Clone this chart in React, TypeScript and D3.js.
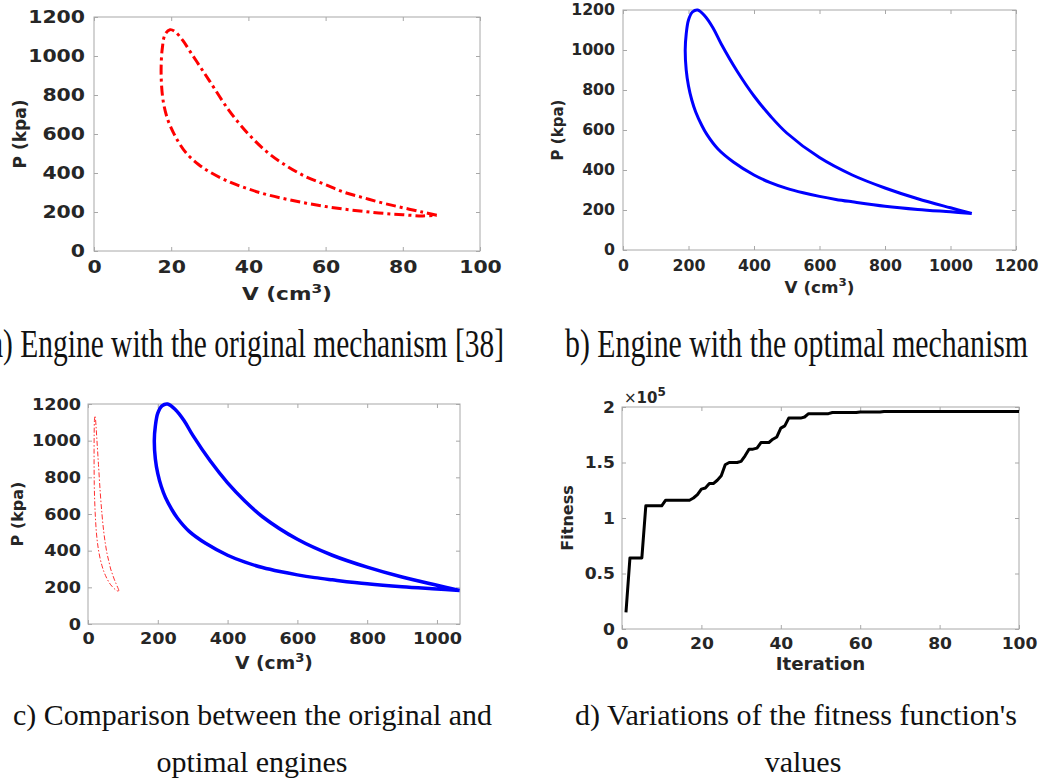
import React, { useEffect, useRef } from 'react';
import * as d3 from 'd3';

// original mechanism P-V loop (cm^3, kPa), starting at the right tip
const origV = [88.8, 85, 80, 75, 70, 65, 60, 55, 50, 45, 40, 35, 30, 27.5, 25, 23, 21, 19.7, 18.4, 17.7, 17.4, 17.5, 18, 19, 20.5, 22, 24, 27, 30, 35, 40, 45, 50, 55, 60, 65, 70, 75, 80, 85, 88.8];
const origP = [183, 200, 222, 245, 272, 300, 340, 380, 435, 505, 600, 720, 870, 945, 1020, 1080, 1125, 1135, 1110, 1040, 950, 850, 760, 680, 610, 555, 500, 445, 405, 355, 318, 288, 265, 245, 228, 214, 203, 193, 186, 180, 183];

// optimal mechanism P-V loop
const optV = [1065, 1000, 900, 800, 700, 600, 500, 450, 400, 350, 300, 275, 250, 228, 212, 200, 193, 190, 193, 200, 210, 222, 240, 256, 290, 337, 400, 450, 500, 550, 600, 650, 700, 800, 900, 1000, 1065];
const optP = [183, 211, 256, 310, 375, 462, 585, 670, 770, 890, 1030, 1110, 1170, 1200, 1190, 1150, 1080, 1000, 900, 820, 750, 690, 625, 578, 505, 440, 375, 337, 308, 286, 268, 253, 241, 219, 203, 191, 183];

// fitness per iteration (x 1e5), iterations 1..100
const fitness = [
  0.15, 0.64, 0.64, 0.64, 0.64, 1.11, 1.11, 1.11, 1.11, 1.11,
  1.16, 1.16, 1.16, 1.16, 1.16, 1.16, 1.16, 1.18, 1.21, 1.26,
  1.27, 1.31, 1.31, 1.34, 1.38, 1.48, 1.50, 1.50, 1.50, 1.51,
  1.56, 1.62, 1.62, 1.63, 1.68, 1.68, 1.68, 1.71, 1.73, 1.81,
  1.83, 1.90, 1.90, 1.90, 1.90, 1.91, 1.94, 1.94, 1.94, 1.94,
  1.94, 1.94, 1.95, 1.95, 1.95, 1.95, 1.95, 1.95, 1.95, 1.955,
  1.955, 1.955, 1.955, 1.955, 1.955, 1.96, 1.96, 1.96, 1.96, 1.96,
  1.96, 1.96, 1.96, 1.96, 1.96, 1.96, 1.96, 1.96, 1.96, 1.96,
  1.96, 1.96, 1.96, 1.96, 1.96, 1.96, 1.96, 1.96, 1.96, 1.96,
  1.96, 1.96, 1.96, 1.96, 1.96, 1.96, 1.96, 1.96, 1.96, 1.96,
];

const pTicks = [0, 200, 400, 600, 800, 1000, 1200];
const vTicksA = [0, 20, 40, 60, 80, 100];
const vTicksB = [0, 200, 400, 600, 800, 1000, 1200];
const vTicksC = [0, 200, 400, 600, 800, 1000];
const iterTicks = [0, 20, 40, 60, 80, 100];
const fitTicks = [0, 0.5, 1, 1.5, 2];

const TXT = '#262626';
const BOX = '#a8a8a8';

type Panel = {
  box: [number, number, number, number]; // left, top, right, bottom
  xDomain: [number, number];
  yDomain: [number, number];
  xTicks: number[];
  yTicks: number[];
  fs: number;
  stretch: number;
  padX: number;
  padY: number;
  xLabelY: number;
  yLabelX: number;
  xLabel: string;
  yLabel: string;
};

// widen a text horizontally, like the stretched original figure
const widen = (k: number) => function (this: any) {
  const w = this.getComputedTextLength();
  if (w > 0) d3.select(this).attr('textLength', w * k).attr('lengthAdjust', 'spacingAndGlyphs');
};

const drawPanel = (svg: any, p: Panel) => {
  const [l, t, r, b] = p.box;
  const x = d3.scaleLinear().domain(p.xDomain).range([l, r]);
  const y = d3.scaleLinear().domain(p.yDomain).range([b, t]);
  const g = svg.append('g');

  g.append('rect')
    .attr('x', l).attr('y', t).attr('width', r - l).attr('height', b - t)
    .attr('fill', 'white').attr('stroke', BOX).attr('stroke-width', 1);

  const style = (sel: any) => {
    sel.select('.domain').remove();
    sel.selectAll('line').attr('stroke', BOX);
    sel.selectAll('text')
      .attr('fill', TXT)
      .attr('font-family', 'DejaVu Sans')
      .attr('font-weight', 'bold')
      .attr('font-size', p.fs)
      .each(widen(p.stretch));
  };

  g.append('g').attr('transform', `translate(0,${b})`)
    .call(d3.axisBottom(x).tickValues(p.xTicks).tickSizeInner(-4).tickSizeOuter(0).tickPadding(p.padX).tickFormat(d3.format('d')))
    .call(style);
  g.append('g').attr('transform', `translate(0,${t})`)
    .call(d3.axisTop(x).tickValues(p.xTicks).tickSizeInner(-4).tickSizeOuter(0).tickFormat(() => ''))
    .call(style);
  g.append('g').attr('transform', `translate(${l},0)`)
    .call(d3.axisLeft(y).tickValues(p.yTicks).tickSizeInner(-4).tickSizeOuter(0).tickPadding(p.padY).tickFormat((d: any) => String(d)))
    .call(style);
  g.append('g').attr('transform', `translate(${r},0)`)
    .call(d3.axisRight(y).tickValues(p.yTicks).tickSizeInner(-4).tickSizeOuter(0).tickFormat(() => ''))
    .call(style);

  const cx = (l + r) / 2;
  const cy = (t + b) / 2;
  const xl = g.append('text')
    .attr('x', cx).attr('y', p.xLabelY)
    .attr('text-anchor', 'middle')
    .attr('fill', TXT).attr('font-family', 'DejaVu Sans').attr('font-weight', 'bold')
    .attr('font-size', p.fs + 1);
  if (p.xLabel === 'V') {
    xl.append('tspan').text('V (cm');
    xl.append('tspan').attr('dy', -7).attr('font-size', p.fs * 0.75).text('3');
    xl.append('tspan').attr('dy', 7).text(')');
  } else {
    xl.text(p.xLabel);
  }
  xl.each(widen(p.stretch));
  g.append('text')
    .attr('transform', `translate(${p.yLabelX},${cy}) rotate(-90)`)
    .attr('text-anchor', 'middle')
    .attr('dy', '0.35em')
    .attr('fill', TXT).attr('font-family', 'DejaVu Sans').attr('font-weight', 'bold')
    .attr('font-size', p.fs)
    .text(p.yLabel);

  return { g, x, y };
};

const App = () => {
  const svgRef = useRef(null);

  useEffect(() => {
    const svg = d3.select(svgRef.current);
    svg.selectAll('*').remove();

    const loop = (x: any, y: any, vs: number[], ps: number[]) =>
      d3.line<number>()
        .x((_, i) => x(vs[i]))
        .y((_, i) => y(ps[i]))
        .curve(d3.curveCatmullRom.alpha(0.5))(vs);

    // (a) original mechanism
    const a = drawPanel(svg, {
      box: [94, 17, 480, 251], xDomain: [0, 100], yDomain: [0, 1200],
      xTicks: vTicksA, yTicks: pTicks, fs: 17, stretch: 1.2, padX: 10, padY: 9,
      xLabelY: 300, yLabelX: 20, xLabel: 'V', yLabel: 'P (kpa)',
    });
    a.g.append('path')
      .attr('d', loop(a.x, a.y, origV, origP))
      .attr('fill', 'none').attr('stroke', '#ff0000').attr('stroke-width', 3)
      .attr('stroke-dasharray', '10,4,3,4');

    // (b) optimal mechanism
    const bp = drawPanel(svg, {
      box: [623, 10, 1016, 250], xDomain: [0, 1200], yDomain: [0, 1200],
      xTicks: vTicksB, yTicks: pTicks, fs: 15, stretch: 1.05, padX: 10, padY: 8,
      xLabelY: 293, yLabelX: 558, xLabel: 'V', yLabel: 'P (kpa)',
    });
    bp.g.append('path')
      .attr('d', loop(bp.x, bp.y, optV, optP))
      .attr('fill', 'none').attr('stroke', '#0000ff').attr('stroke-width', 3);

    // (c) comparison
    const c = drawPanel(svg, {
      box: [88, 404, 460, 624], xDomain: [0, 1066], yDomain: [0, 1200],
      xTicks: vTicksC, yTicks: pTicks, fs: 16, stretch: 1.1, padX: 9, padY: 7,
      xLabelY: 669, yLabelX: 17, xLabel: 'V', yLabel: 'P (kpa)',
    });
    c.g.append('path')
      .attr('d', loop(c.x, c.y, origV, origP))
      .attr('fill', 'none').attr('stroke', '#ff3030').attr('stroke-width', 1)
      .attr('stroke-dasharray', '5,2,1.5,2');
    c.g.append('path')
      .attr('d', loop(c.x, c.y, optV, optP))
      .attr('fill', 'none').attr('stroke', '#0000ff').attr('stroke-width', 3.5);

    // (d) fitness
    const d = drawPanel(svg, {
      box: [622, 407, 1019, 629], xDomain: [0, 100], yDomain: [0, 2],
      xTicks: iterTicks, yTicks: fitTicks, fs: 16, stretch: 1.07, padX: 9, padY: 7,
      xLabelY: 670, yLabelX: 567, xLabel: 'Iteration', yLabel: 'Fitness',
    });
    d.g.append('path')
      .attr('d', d3.line<number>().x((_, i) => d.x(i + 1)).y(v => d.y(v))(fitness))
      .attr('fill', 'none').attr('stroke', '#000000').attr('stroke-width', 3)
      .attr('stroke-linejoin', 'round');
    const ex = d.g.append('text')
      .attr('x', 624).attr('y', 403)
      .attr('fill', TXT).attr('font-family', 'DejaVu Sans').attr('font-size', 15);
    ex.append('tspan').text('\u00d7');
    ex.append('tspan').attr('font-weight', 'bold').text('10');
    ex.append('tspan').attr('font-weight', 'bold').attr('font-size', 12).attr('dy', -7).text('5');

    // captions (a and b are stretched vertically in the original)
    const cap = (txt: string, x: number, yb: number, fs: number, sy: number, len?: number, anchor = 'start') => {
      const tx = svg.append('text')
        .attr('transform', `translate(${x},${yb}) scale(1,${sy})`)
        .attr('text-anchor', anchor)
        .attr('font-family', 'Liberation Serif')
        .attr('font-size', fs)
        .attr('fill', '#111')
        .text(txt);
      if (len) tx.attr('textLength', len).attr('lengthAdjust', 'spacingAndGlyphs');
    };
    cap('a) Engine with the original mechanism [38]', -10, 357, 30, 1.33, 514);
    cap('b) Engine with the optimal mechanism', 565, 357, 30, 1.33, 463);
    cap('c) Comparison between the original and', 13, 725, 30, 1, 479);
    cap('optimal engines', 252, 772, 30, 1, undefined, 'middle');
    cap("d) Variations of the fitness function's", 575, 725, 30, 1, 442);
    cap('values', 803, 772, 30, 1, undefined, 'middle');
  }, []);

  return (
    <svg ref={svgRef} width={1051} height={784}
      style={{ position: 'absolute', left: 0, top: 0, background: 'white' }} />
  );
};

export default App;
